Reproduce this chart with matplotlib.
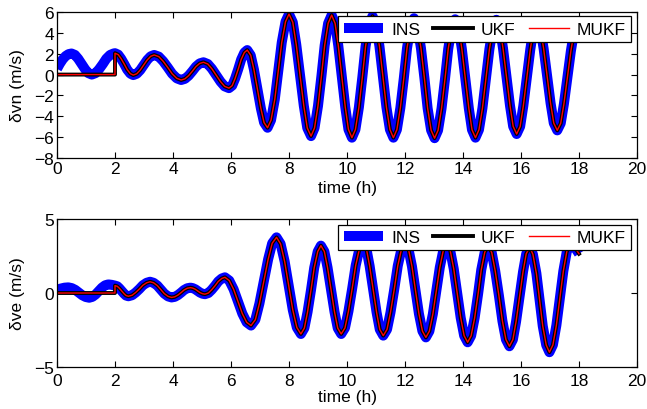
import matplotlib
matplotlib.use("Agg")
import matplotlib.pyplot as plt

plt.rcParams['font.family'] = ['Liberation Sans', 'DejaVu Sans']

# ---------------- data: top (delta vn) ----------------
# INS before the filters start (0-2 h)
vn_ins_t0 = [0.00, 0.10, 0.20, 0.30, 0.40, 0.50,
             0.62, 0.73, 0.85, 0.97, 1.08, 1.20,
             1.33, 1.45, 1.58, 1.70, 1.83, 1.95]
vn_ins_v0 = [0.55, 1.05, 1.47, 1.78, 1.96, 2.02,
             1.88, 1.52, 1.01, 0.51, 0.14, 0.00,
             0.14, 0.51, 1.01, 1.52, 1.88, 2.02]
# common trajectory (INS, UKF, MUKF coincide) from 2 h to 18 h
vn_t = [2.00,
        2.11, 2.21, 2.32, 2.42, 2.53, 2.63,
        2.75, 2.87, 2.99, 3.11, 3.23, 3.35,
        3.51, 3.66, 3.82, 3.97, 4.13, 4.28,
        4.41, 4.54, 4.67, 4.79, 4.92, 5.05,
        5.20, 5.34, 5.49, 5.64, 5.78, 5.93,
        6.04, 6.14, 6.25, 6.35, 6.46, 6.56,
        6.68, 6.79, 6.91, 7.03, 7.14, 7.26,
        7.38, 7.51, 7.63, 7.75, 7.88, 8.00,
        8.13, 8.25, 8.38, 8.51, 8.63, 8.76,
        8.88, 9.00, 9.12, 9.23, 9.35, 9.47,
        9.59, 9.70, 9.82, 9.94, 10.05, 10.17,
        10.29, 10.41, 10.53, 10.64, 10.76, 10.88,
        11.00, 11.12, 11.24, 11.36, 11.48, 11.60,
        11.72, 11.84, 11.96, 12.07, 12.19, 12.31,
        12.43, 12.55, 12.67, 12.78, 12.90, 13.02,
        13.14, 13.26, 13.38, 13.49, 13.61, 13.73,
        13.85, 13.96, 14.08, 14.20, 14.31, 14.43,
        14.55, 14.67, 14.79, 14.91, 15.03, 15.15,
        15.27, 15.38, 15.50, 15.62, 15.73, 15.85,
        15.97, 16.08, 16.20, 16.32, 16.43, 16.55,
        16.67, 16.78, 16.90, 17.02, 17.13, 17.25,
        17.37, 17.48, 17.60, 17.72, 17.83, 17.95, 18.00]
vn_v = [2.05,
        1.91, 1.53, 1.00, 0.48, 0.09, -0.05,
        0.08, 0.43, 0.92, 1.40, 1.75, 1.88,
        1.72, 1.28, 0.68, 0.08, -0.36, -0.52,
        -0.41, -0.10, 0.33, 0.76, 1.07, 1.18,
        1.01, 0.56, -0.06, -0.68, -1.13, -1.30,
        -1.06, -0.39, 0.53, 1.44, 2.11, 2.35,
        1.85, 0.49, -1.38, -3.24, -4.60, -5.10,
        -4.37, -2.38, 0.35, 3.08, 5.07, 5.80,
        5.02, 2.88, -0.05, -2.98, -5.12, -5.90,
        -5.12, -3.00, -0.10, 2.80, 4.92, 5.70,
        4.91, 2.76, -0.18, -3.11, -5.26, -6.05,
        -5.27, -3.14, -0.23, 2.69, 4.82, 5.60,
        4.82, 2.69, -0.23, -3.14, -5.27, -6.05,
        -5.28, -3.19, -0.33, 2.54, 4.63, 5.40,
        4.63, 2.53, -0.35, -3.23, -5.33, -6.10,
        -5.34, -3.25, -0.40, 2.45, 4.54, 5.30,
        4.54, 2.46, -0.38, -3.21, -5.29, -6.05,
        -5.29, -3.23, -0.40, 2.43, 4.49, 5.25,
        4.52, 2.51, -0.23, -2.96, -4.97, -5.70,
        -4.98, -3.00, -0.30, 2.40, 4.38, 5.10,
        4.40, 2.49, -0.13, -2.74, -4.65, -5.35,
        -4.67, -2.81, -0.28, 2.26, 4.12, 4.80, 4.78]

# ---------------- data: bottom (delta ve) ----------------
ve_ins_t0 = [0.00, 0.13, 0.26, 0.39,
             0.51, 0.63, 0.75, 0.87, 0.99, 1.11,
             1.22, 1.33, 1.44, 1.55, 1.66, 1.77, 1.89]
ve_ins_v0 = [0.22, 0.30, 0.36, 0.38,
             0.33, 0.21, 0.03, -0.15, -0.27, -0.32,
             -0.26, -0.10, 0.13, 0.36, 0.52, 0.58, 0.55]
ve_t = [2.00,
        2.08, 2.15, 2.23, 2.31, 2.38, 2.46,
        2.59, 2.71, 2.84, 2.96, 3.09, 3.21,
        3.33, 3.46, 3.58, 3.70, 3.83, 3.95,
        4.06, 4.17, 4.28, 4.38, 4.49, 4.60,
        4.68, 4.77, 4.85, 4.93, 5.02, 5.10,
        5.22, 5.33, 5.45, 5.56, 5.68, 5.79,
        5.94, 6.09, 6.24, 6.39, 6.54, 6.69,
        6.84, 6.98, 7.13, 7.28, 7.42, 7.57,
        7.71, 7.85, 7.99, 8.13, 8.27, 8.41,
        8.53, 8.64, 8.76, 8.87, 8.99, 9.10,
        9.22, 9.33, 9.45, 9.57, 9.68, 9.80,
        9.93, 10.05, 10.18, 10.30, 10.43, 10.55,
        10.67, 10.78, 10.90, 11.02, 11.13, 11.25,
        11.38, 11.50, 11.63, 11.75, 11.88, 12.00,
        12.12, 12.24, 12.36, 12.48, 12.60, 12.72,
        12.84, 12.96, 13.08, 13.20, 13.32, 13.44,
        13.56, 13.68, 13.80, 13.92, 14.04, 14.16,
        14.28, 14.40, 14.52, 14.63, 14.75, 14.87,
        14.99, 15.11, 15.24, 15.36, 15.48, 15.60,
        15.72, 15.83, 15.95, 16.07, 16.18, 16.30,
        16.41, 16.53, 16.64, 16.75, 16.87, 16.98,
        17.10, 17.22, 17.34, 17.46, 17.58, 17.70,
        17.80, 17.90, 18.00]
ve_v = [0.50,
        0.45, 0.32, 0.14, -0.04, -0.17, -0.22,
        -0.15, 0.03, 0.27, 0.52, 0.69, 0.76,
        0.69, 0.50, 0.23, -0.04, -0.23, -0.30,
        -0.26, -0.14, 0.03, 0.20, 0.32, 0.36,
        0.33, 0.25, 0.14, 0.03, -0.05, -0.08,
        0.00, 0.21, 0.49, 0.78, 0.98, 1.06,
        0.84, 0.25, -0.57, -1.39, -1.98, -2.20,
        -1.80, -0.71, 0.78, 2.27, 3.36, 3.76,
        3.32, 2.13, 0.50, -1.14, -2.33, -2.77,
        -2.37, -1.28, 0.22, 1.71, 2.80, 3.20,
        2.80, 1.71, 0.22, -1.28, -2.37, -2.77,
        -2.36, -1.23, 0.32, 1.86, 2.99, 3.40,
        2.98, 1.83, 0.26, -1.31, -2.46, -2.88,
        -2.46, -1.31, 0.26, 1.83, 2.98, 3.40,
        2.97, 1.80, 0.20, -1.40, -2.57, -3.00,
        -2.58, -1.43, 0.15, 1.73, 2.88, 3.30,
        2.86, 1.64, -0.02, -1.67, -2.89, -3.33,
        -2.89, -1.70, -0.07, 1.57, 2.76, 3.20,
        2.74, 1.50, -0.20, -1.90, -3.14, -3.60,
        -3.15, -1.93, -0.25, 1.43, 2.65, 3.10,
        2.62, 1.33, -0.45, -2.23, -3.52, -4.00,
        -3.51, -2.18, -0.35, 1.48, 2.81, 3.30,
        3.20, 2.95, 2.65]

x_ticks = [0, 2, 4, 6, 8, 10, 12, 14, 16, 18, 20]
vn_ticks = [-8, -6, -4, -2, 0, 2, 4, 6]
ve_ticks = [-5, 0, 5]
legend_labels = ['INS', 'UKF', 'MUKF']
filter_start = 2.0

FS = 12.5

fig = plt.figure(figsize=(6.47, 4.10), dpi=100)
ax1 = fig.add_axes([57/647, 1 - 159/410, 580/647, 146/410])
ax2 = fig.add_axes([57/647, 1 - 368/410, 580/647, 148/410])


def draw(ax, t0, v0, t, v, ylim, yticks, ylabel, leg_top, xpad, xlabpad):
    ins_t = t0 + t
    ins_v = v0 + v
    kf_t = [0.0, filter_start] + t
    kf_v = [0.0, 0.0] + v
    l1, = ax.plot(ins_t, ins_v, color='#0000ff', lw=7.2, solid_capstyle='butt')
    l2, = ax.plot(kf_t, kf_v, color='black', lw=2.8)
    l3, = ax.plot(kf_t, kf_v, color='#ff0000', lw=1.0)
    ax.set_xlim(0, 20)
    ax.set_ylim(*ylim)
    ax.set_xticks(x_ticks)
    ax.set_yticks(yticks)
    ax.tick_params(direction='in', top=True, right=True, length=4,
                   labelsize=FS, pad=2, width=0.8)
    ax.tick_params(axis='x', pad=xpad)
    for s in ax.spines.values():
        s.set_linewidth(0.9)
    ax.set_xlabel('time (h)', fontsize=FS, labelpad=xlabpad)
    ax.set_ylabel(ylabel, fontsize=FS, labelpad=7)
    leg = ax.legend([l1, l2, l3], legend_labels, ncol=3, loc='upper right',
                    bbox_to_anchor=(0.989, leg_top), fontsize=FS,
                    handlelength=2.3, columnspacing=0.75, handletextpad=0.45,
                    borderpad=0.3, borderaxespad=0, fancybox=False,
                    framealpha=1, edgecolor='black')
    leg.get_frame().set_linewidth(0.9)


draw(ax1, vn_ins_t0, vn_ins_v0, vn_t, vn_v, (-8, 6), vn_ticks, 'δvn (m/s)', 0.97, 2, 3)
draw(ax2, ve_ins_t0, ve_ins_v0, ve_t, ve_v, (-5, 5), ve_ticks, 'δve (m/s)', 0.961, 4, 1)

fig.savefig('out.png', dpi=100)
